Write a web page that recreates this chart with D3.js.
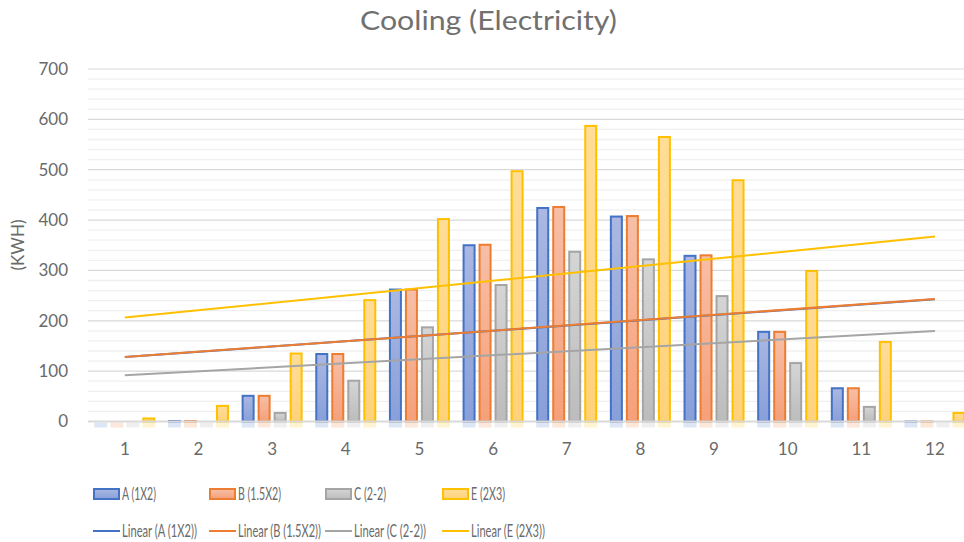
<!DOCTYPE html>
<html><head><meta charset="utf-8">
<script src="https://cdn.jsdelivr.net/npm/d3@7"></script>
<style>body{margin:0;background:#fff;}svg{display:block;font-family:Lato,"Open Sans",sans-serif;}</style>
</head><body><svg id="c" width="964" height="542"></svg>
<script>
const months = ["1","2","3","4","5","6","7","8","9","10","11","12"];
const seriesNames = ["A (1X2)","B (1.5X2)","C (2-2)","E (2X3)"];
const valuesA = [0,3,53,136,264,352,426,409,331,180,68,2];
const valuesB = [0,3,53,136,264,353,428,410,332,180,68,2];
const valuesC = [0,0,19,83,189,273,339,324,251,118,31,0];
const valuesE = [8,33,137,243,404,499,589,567,481,301,160,19];
const yTicks = [0,100,200,300,400,500,600,700];
const strokeColors = ["#4472C4","#ED7D31","#A5A5A5","#FFC000"];
const gradTop = ["#aab8e2","#f7bfa7","#d5d5d5","#ffdd98"];
const gradBot = ["#889fd9","#f5a07a","#bcbcbc","#ffd27a"];

(function(){
const allValues = [valuesA, valuesB, valuesC, valuesE];
const svg = d3.select("#c");
const W = 964, pLeft = 88, pTop = 69, pBottom = 421.5;
const txt = "#6a6a6a";
const x = d3.scaleBand().domain(months).range([pLeft, pLeft + 12*73.65]).padding(0);
const xs = d3.scaleBand().domain(seriesNames).range([0, x.bandwidth()]).paddingInner(0.1875).paddingOuter(0.395);
const y = d3.scaleLinear().domain([0,700]).range([pBottom, pTop]);

// draw text squeezed horizontally to a target width, using a transform
function fitText(parent, tx, ty, str, size, width, color, dy){
  const g = parent.append("g");
  const t = g.append("text").attr("font-size",size).attr("fill",color).attr("dy",dy||0).text(str);
  const nat = t.node().getComputedTextLength();
  const sx = nat > 0 ? width/nat : 1;
  g.attr("transform","translate("+tx+","+ty+") scale("+sx+",1)");
  return g;
}

const defs = svg.append("defs");
seriesNames.forEach((s,i)=>{
  const g = defs.append("linearGradient").attr("id","g"+i).attr("x1",0).attr("y1",0).attr("x2",0).attr("y2",1);
  g.append("stop").attr("offset","0%").attr("stop-color",gradTop[i]);
  g.append("stop").attr("offset","100%").attr("stop-color",gradBot[i]);
});

fitText(svg, 360, 30, "Cooling (Electricity)", 26, 257, "#707070");

const minor = d3.range(0,701,20).filter(v=>v%100!==0);
svg.append("g").selectAll("line").data(minor).join("line")
  .attr("x1",pLeft).attr("x2",W).attr("y1",d=>y(d)).attr("y2",d=>y(d))
  .attr("stroke","#f0f0f0").attr("stroke-width",1.3);
svg.append("g").selectAll("line").data(yTicks.filter(v=>v>0)).join("line")
  .attr("x1",pLeft).attr("x2",W).attr("y1",d=>y(d)).attr("y2",d=>y(d))
  .attr("stroke","#d9d9d9").attr("stroke-width",1.2);

svg.append("g").selectAll("text").data(yTicks).join("text")
  .attr("x",68).attr("y",d=>y(d)).attr("dy","0.35em").attr("text-anchor","end")
  .attr("font-size",17).attr("fill",txt).text(d=>d);

svg.append("text").attr("transform","translate(24,245) rotate(-90)").attr("text-anchor","middle")
  .attr("font-size",17).attr("fill",txt).text("(KWH)");

const barG = svg.append("g");
seriesNames.forEach((s,i)=>{
  const vals = allValues[i];
  barG.append("g").selectAll("rect").data(months).join("rect")
    .attr("x",m=>x(m)+xs(s)).attr("y",pBottom+1).attr("width",xs.bandwidth()).attr("height",5)
    .attr("fill",strokeColors[i]).attr("opacity",0.18);
  barG.append("g").selectAll("rect").data(months).join("rect")
    .attr("x",m=>x(m)+xs(s)+1).attr("y",(m,j)=>y(vals[j])+1)
    .attr("width",xs.bandwidth()-2).attr("height",(m,j)=>Math.max(0,pBottom-y(vals[j])-1))
    .attr("fill","url(#g"+i+")").attr("stroke",strokeColors[i]).attr("stroke-width",2)
    .attr("display",(m,j)=>vals[j]>0?null:"none");
});

svg.append("line").attr("x1",pLeft).attr("x2",W).attr("y1",pBottom).attr("y2",pBottom)
  .attr("stroke","#d9d9d9").attr("stroke-width",2);

svg.append("g").selectAll("text").data(months).join("text")
  .attr("x",m=>x(m)+x.bandwidth()/2).attr("y",455).attr("text-anchor","middle")
  .attr("font-size",17).attr("fill",txt).text(d=>d);

const xn = months.map(Number);
[0,1,2,3].forEach(i=>{
  const vals = allValues[i];
  const mx = d3.mean(xn), my = d3.mean(vals);
  const slope = d3.sum(xn.map((v,k)=>(v-mx)*(vals[k]-my))) / d3.sum(xn.map(v=>(v-mx)*(v-mx)));
  const b = my - slope*mx;
  const p0 = months[0], p1 = months[months.length-1];
  svg.append("line")
    .attr("x1",x(p0)+x.bandwidth()/2).attr("x2",x(p1)+x.bandwidth()/2)
    .attr("y1",y(slope*+p0+b)).attr("y2",y(slope*+p1+b))
    .attr("stroke",strokeColors[i]).attr("stroke-width",2);
});

const legX = [93,209,325,442];
const w1 = [34,43,32,34];
const w2 = [75,83,72,74];
const lg = svg.append("g");
seriesNames.forEach((s,i)=>{
  lg.append("rect").attr("x",legX[i]+1).attr("y",489).attr("width",25).attr("height",10)
    .attr("fill","url(#g"+i+")").attr("stroke",strokeColors[i]).attr("stroke-width",2);
  fitText(lg, legX[i]+29, 494, s, 17.5, w1[i], txt, "0.35em");
  lg.append("line").attr("x1",legX[i]).attr("x2",legX[i]+27).attr("y1",531).attr("y2",531)
    .attr("stroke",strokeColors[i]).attr("stroke-width",2);
  fitText(lg, legX[i]+29, 531, "Linear ("+s+")", 17.5, w2[i], txt, "0.35em");
});
})();
</script></body></html>
